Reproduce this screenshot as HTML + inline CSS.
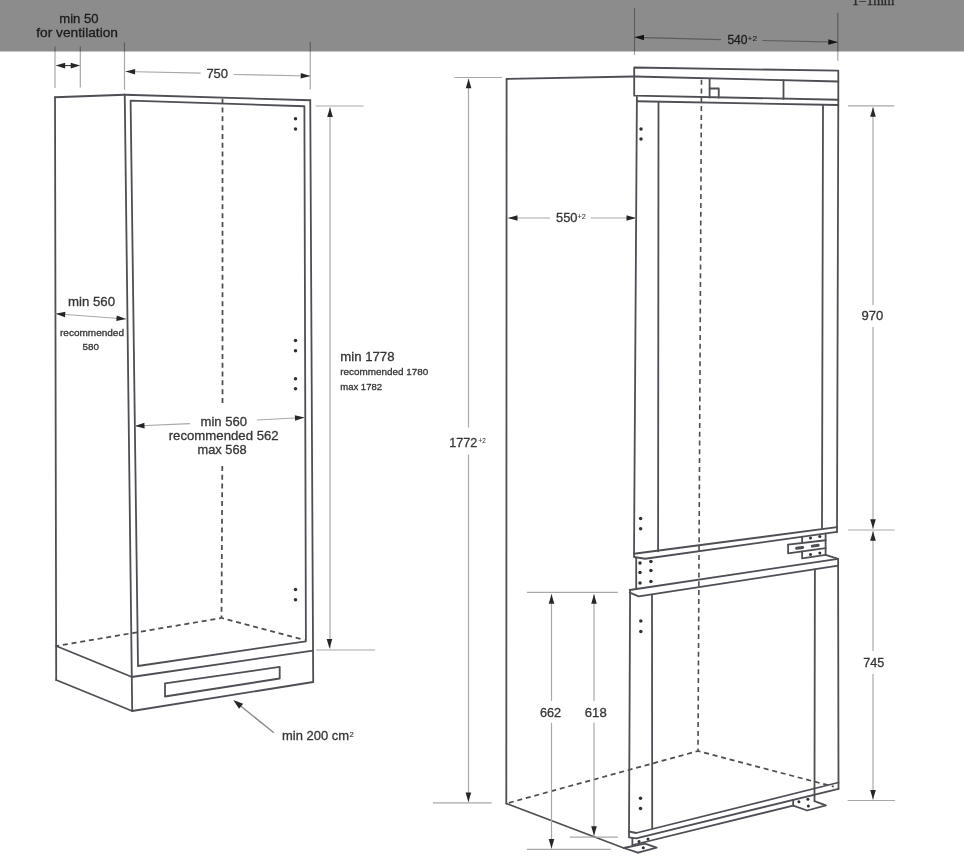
<!DOCTYPE html>
<html><head><meta charset="utf-8"><style>
html,body{margin:0;padding:0;background:#fff;width:964px;height:866px;overflow:hidden}
svg{display:block;will-change:transform}
</style></head><body>
<div id="w"><svg width="964" height="866" viewBox="0 0 964 866">
<rect width="964" height="866" fill="#fff"/>
<g>
<polyline points="55,97.25 124.75,94.75" fill="none" stroke="#4e4e54" stroke-width="1.8" stroke-linejoin="round" stroke-linecap="round"/>
<polyline points="55,97.25 56.2,680" fill="none" stroke="#4e4e54" stroke-width="1.8" stroke-linejoin="round" stroke-linecap="round"/>
<polyline points="124.75,94.75 310.25,100.25" fill="none" stroke="#4e4e54" stroke-width="1.8" stroke-linejoin="round" stroke-linecap="round"/>
<polyline points="124.75,94.75 132.2,711" fill="none" stroke="#4e4e54" stroke-width="1.8" stroke-linejoin="round" stroke-linecap="round"/>
<polyline points="310.25,100.25 313.2,682" fill="none" stroke="#4e4e54" stroke-width="1.8" stroke-linejoin="round" stroke-linecap="round"/>
<polygon points="130.6,100.6 304.4,106.25 305.9,641.3 138,666" fill="none" stroke="#4e4e54" stroke-width="1.8" stroke-linejoin="round" stroke-linecap="round"/>
<polyline points="131.6,677 313,650.6" fill="none" stroke="#4e4e54" stroke-width="1.8" stroke-linejoin="round" stroke-linecap="round"/>
<polyline points="132.2,711 313.2,682" fill="none" stroke="#4e4e54" stroke-width="1.8" stroke-linejoin="round" stroke-linecap="round"/>
<polyline points="56.2,646 132,677" fill="none" stroke="#4e4e54" stroke-width="1.8" stroke-linejoin="round" stroke-linecap="round"/>
<polyline points="56.2,680 132.2,711" fill="none" stroke="#4e4e54" stroke-width="1.8" stroke-linejoin="round" stroke-linecap="round"/>
<polygon points="165,683.4 279.7,666.9 279.7,678.5 165,696.5" fill="none" stroke="#4e4e54" stroke-width="1.8" stroke-linejoin="round" stroke-linecap="round"/>
<polyline points="222.5,98.75 222.5,406" fill="none" stroke="#4c4c52" stroke-width="1.75" stroke-dasharray="5 3.8" stroke-dashoffset="0" stroke-linejoin="round"/>
<polyline points="221.5,618 222.3,466" fill="none" stroke="#4c4c52" stroke-width="1.75" stroke-dasharray="5 3.8" stroke-dashoffset="2.5" stroke-linejoin="round"/>
<polyline points="221.5,618 56.2,646" fill="none" stroke="#4c4c52" stroke-width="1.75" stroke-dasharray="5 3.8" stroke-dashoffset="2.5" stroke-linejoin="round"/>
<polyline points="221.5,618 304.4,639.9" fill="none" stroke="#4c4c52" stroke-width="1.75" stroke-dasharray="5 3.8" stroke-dashoffset="2.5" stroke-linejoin="round"/>
<circle cx="295.5" cy="118.75" r="1.75" fill="#303034"/>
<circle cx="295.5" cy="129.1" r="1.75" fill="#303034"/>
<circle cx="295.5" cy="340.5" r="1.75" fill="#303034"/>
<circle cx="295.5" cy="350.7" r="1.75" fill="#303034"/>
<circle cx="295.5" cy="378.7" r="1.75" fill="#303034"/>
<circle cx="295.5" cy="388.7" r="1.75" fill="#303034"/>
<circle cx="295.5" cy="589.6" r="1.75" fill="#303034"/>
<circle cx="295.5" cy="599.8" r="1.75" fill="#303034"/>
<polyline points="55,46.5 55,88" fill="none" stroke="#a8a8a8" stroke-width="1.2"/>
<polyline points="80.3,46.5 80.3,87.5" fill="none" stroke="#a8a8a8" stroke-width="1.2"/>
<polyline points="124.5,42.5 124.5,89.75" fill="none" stroke="#a8a8a8" stroke-width="1.2"/>
<polyline points="310.25,42 310.25,89.4" fill="none" stroke="#a8a8a8" stroke-width="1.2"/>
<line x1="64" y1="65.6" x2="72" y2="65.6" stroke="#262626" stroke-width="1"/>
<polygon points="55.6,65.6 65.1,62.8 65.1,68.4" fill="#262626"/>
<polygon points="80.2,65.6 70.7,68.4 70.7,62.8" fill="#262626"/>
<polyline points="125.6,71.5 200.7,73.1" fill="none" stroke="#a8a8a8" stroke-width="1.2"/>
<polyline points="233.5,74.5 310.25,76" fill="none" stroke="#a8a8a8" stroke-width="1.2"/>
<polygon points="125.6,71.5 135.16,68.9 135.04,74.5" fill="#262626"/>
<polygon points="310.25,76 300.7,78.61 300.81,73.01" fill="#262626"/>
<polyline points="55.5,313.75 126,319" fill="none" stroke="#a8a8a8" stroke-width="1.2"/>
<polygon points="55.7,313.75 65.38,311.67 64.97,317.25" fill="#262626"/>
<polygon points="126,319 116.32,321.09 116.73,315.5" fill="#262626"/>
<polyline points="135,426 190,423.7" fill="none" stroke="#a8a8a8" stroke-width="1.2"/>
<polyline points="257,420 304,417.5" fill="none" stroke="#a8a8a8" stroke-width="1.2"/>
<polygon points="135,426 144.37,422.81 144.61,428.4" fill="#262626"/>
<polygon points="304.5,417.5 295.16,420.8 294.87,415.2" fill="#262626"/>
<polyline points="330,107.5 330,648.6" fill="none" stroke="#a8a8a8" stroke-width="1.2"/>
<polygon points="330,107.5 332.8,117 327.2,117" fill="#262626"/>
<polygon points="329.5,648.6 326.7,639.1 332.3,639.1" fill="#262626"/>
<polyline points="315.6,106 363.5,106" fill="none" stroke="#a8a8a8" stroke-width="1.2"/>
<polyline points="316,650 375,650" fill="none" stroke="#a8a8a8" stroke-width="1.2"/>
<line x1="273.9" y1="732.8" x2="237" y2="703" stroke="#8a8a8a" stroke-width="1.4"/>
<polygon points="233.3,700 243.12,703.76 239.04,708.81" fill="#262626"/>
<text x="59.25" y="22.8" font-family="Liberation Sans" font-size="13" fill="#353538" stroke="#353538" stroke-width="0.3" textLength="39.25" lengthAdjust="spacingAndGlyphs">min 50</text>
<text x="36.25" y="36.9" font-family="Liberation Sans" font-size="13" fill="#353538" stroke="#353538" stroke-width="0.3" textLength="81.75" lengthAdjust="spacingAndGlyphs">for ventilation</text>
<text x="206.4" y="78.2" font-family="Liberation Sans" font-size="13" fill="#353538" stroke="#353538" stroke-width="0.3" textLength="21.7" lengthAdjust="spacingAndGlyphs">750</text>
<text x="68" y="306" font-family="Liberation Sans" font-size="13" fill="#353538" stroke="#353538" stroke-width="0.3" textLength="47" lengthAdjust="spacingAndGlyphs">min 560</text>
<text x="60" y="335.5" font-family="Liberation Sans" font-size="9.5" fill="#353538" stroke="#353538" stroke-width="0.3" textLength="64" lengthAdjust="spacingAndGlyphs">recommended</text>
<text x="82.5" y="349.5" font-family="Liberation Sans" font-size="9.5" fill="#353538" stroke="#353538" stroke-width="0.3" textLength="16.5" lengthAdjust="spacingAndGlyphs">580</text>
<text x="200.5" y="425.5" font-family="Liberation Sans" font-size="13" fill="#353538" stroke="#353538" stroke-width="0.3" textLength="46.5" lengthAdjust="spacingAndGlyphs">min 560</text>
<text x="168.7" y="440" font-family="Liberation Sans" font-size="13" fill="#353538" stroke="#353538" stroke-width="0.3" textLength="110" lengthAdjust="spacingAndGlyphs">recommended 562</text>
<text x="197.5" y="454" font-family="Liberation Sans" font-size="13" fill="#353538" stroke="#353538" stroke-width="0.3" textLength="49.2" lengthAdjust="spacingAndGlyphs">max 568</text>
<text x="340.3" y="360.8" font-family="Liberation Sans" font-size="12.5" fill="#353538" stroke="#353538" stroke-width="0.3" textLength="54.2" lengthAdjust="spacingAndGlyphs">min 1778</text>
<text x="340.3" y="375.3" font-family="Liberation Sans" font-size="9.5" fill="#353538" stroke="#353538" stroke-width="0.3" textLength="88" lengthAdjust="spacingAndGlyphs">recommended 1780</text>
<text x="340.3" y="389.5" font-family="Liberation Sans" font-size="9.5" fill="#353538" stroke="#353538" stroke-width="0.3" textLength="41.7" lengthAdjust="spacingAndGlyphs">max 1782</text>
<text x="282" y="739.5" font-family="Liberation Sans" font-size="13.5" fill="#353538" stroke="#353538" stroke-width="0.3" textLength="67" lengthAdjust="spacingAndGlyphs">min 200 cm</text>
<text x="349.6" y="737.2" font-family="Liberation Sans" font-size="7" fill="#353538" stroke="#353538" stroke-width="0.15" textLength="4.2" lengthAdjust="spacingAndGlyphs">2</text>
<polyline points="506.6,79 506.3,803.5" fill="none" stroke="#4e4e54" stroke-width="1.8" stroke-linejoin="round" stroke-linecap="round"/>
<polyline points="506.6,79 634.2,76.5" fill="none" stroke="#4e4e54" stroke-width="1.8" stroke-linejoin="round" stroke-linecap="round"/>
<polyline points="506.3,803.5 623.7,848 638,852.6" fill="none" stroke="#4e4e54" stroke-width="1.8" stroke-linejoin="round" stroke-linecap="round"/>
<polyline points="698,751 506.3,803.5" fill="none" stroke="#4c4c52" stroke-width="1.75" stroke-dasharray="5 3.8" stroke-dashoffset="2.5" stroke-linejoin="round"/>
<polyline points="698,751 833.7,786.7" fill="none" stroke="#4c4c52" stroke-width="1.75" stroke-dasharray="5 3.8" stroke-dashoffset="2.5" stroke-linejoin="round"/>
<polyline points="698,751 701.5,78.75" fill="none" stroke="#4c4c52" stroke-width="1.6" stroke-dasharray="5 3.8" stroke-dashoffset="2.5" stroke-linejoin="round"/>
<polygon points="634.2,67.5 838.3,70.7 838.3,99.75 634.2,95.6" fill="none" stroke="#4e4e54" stroke-width="1.8" stroke-linejoin="round" stroke-linecap="round"/>
<polyline points="634.2,76.5 838.3,81.5" fill="none" stroke="#4e4e54" stroke-width="1.8" stroke-linejoin="round" stroke-linecap="round"/>
<polyline points="709.6,78.75 709.6,97.5" fill="none" stroke="#4e4e54" stroke-width="1.8" stroke-linejoin="round" stroke-linecap="round"/>
<polyline points="783.5,80.3 783.5,98.9" fill="none" stroke="#4e4e54" stroke-width="1.8" stroke-linejoin="round" stroke-linecap="round"/>
<polyline points="709.6,88.5 718.75,88.5 718.75,97.5" fill="none" stroke="#4e4e54" stroke-width="1.8" stroke-linejoin="round" stroke-linecap="round"/>
<polyline points="636.9,101.25 838.3,105" fill="none" stroke="#4e4e54" stroke-width="1.8" stroke-linejoin="round" stroke-linecap="round"/>
<polyline points="636.9,96.9 634,557 645,558.75 837,531.9" fill="none" stroke="#4e4e54" stroke-width="1.8" stroke-linejoin="round" stroke-linecap="round"/>
<polyline points="838.3,99.75 837,532" fill="none" stroke="#4e4e54" stroke-width="1.8" stroke-linejoin="round" stroke-linecap="round"/>
<polyline points="658.5,101.9 658.1,551.25" fill="none" stroke="#4e4e54" stroke-width="1.8" stroke-linejoin="round" stroke-linecap="round"/>
<polyline points="823,105.6 822,528.3" fill="none" stroke="#4e4e54" stroke-width="1.8" stroke-linejoin="round" stroke-linecap="round"/>
<polyline points="634,553.75 837,527.2" fill="none" stroke="#4e4e54" stroke-width="1.8" stroke-linejoin="round" stroke-linecap="round"/>
<polyline points="636.2,558.5 636.2,589" fill="none" stroke="#4e4e54" stroke-width="1.8" stroke-linejoin="round" stroke-linecap="round"/>
<circle cx="640" cy="563.1" r="1.75" fill="#303034"/>
<circle cx="650.9" cy="561.6" r="1.75" fill="#303034"/>
<circle cx="640" cy="572.5" r="1.75" fill="#303034"/>
<circle cx="650.9" cy="570.6" r="1.75" fill="#303034"/>
<circle cx="640" cy="582.9" r="1.75" fill="#303034"/>
<circle cx="650.9" cy="581.6" r="1.75" fill="#303034"/>
<polyline points="802.1,536.6 802.1,542.4" fill="none" stroke="#4e4e54" stroke-width="1.8" stroke-linejoin="round" stroke-linecap="round"/>
<polyline points="825.6,533.7 825.6,554.8" fill="none" stroke="#4e4e54" stroke-width="1.8" stroke-linejoin="round" stroke-linecap="round"/>
<polyline points="788.1,544.6 825.6,540.25" fill="none" stroke="#4e4e54" stroke-width="1.8" stroke-linejoin="round" stroke-linecap="round"/>
<polyline points="788.1,544.6 788.1,553.3 825.6,548.2" fill="none" stroke="#4e4e54" stroke-width="1.8" stroke-linejoin="round" stroke-linecap="round"/>
<polyline points="802.1,551.4 802.1,558.4 825.6,554.8" fill="none" stroke="#4e4e54" stroke-width="1.8" stroke-linejoin="round" stroke-linecap="round"/>
<rect x="795.1" y="546.4" width="9" height="3" rx="1.5" fill="#4e4e54" transform="rotate(-8 799.6 547.9)"/>
<rect x="810.7" y="544.2" width="9" height="3" rx="1.5" fill="#4e4e54" transform="rotate(-8 815.2 545.7)"/>
<circle cx="810.5" cy="538.1" r="1.5" fill="#303034"/>
<circle cx="819.8" cy="536.6" r="1.5" fill="#303034"/>
<circle cx="810.5" cy="554.4" r="1.5" fill="#303034"/>
<circle cx="819.8" cy="553" r="1.5" fill="#303034"/>
<polyline points="629.75,590 838.1,558.8" fill="none" stroke="#4e4e54" stroke-width="1.8" stroke-linejoin="round" stroke-linecap="round"/>
<polyline points="825.6,554.8 838.1,558.8" fill="none" stroke="#4e4e54" stroke-width="1.8" stroke-linejoin="round" stroke-linecap="round"/>
<polyline points="838.1,558.8 838.5,788.8" fill="none" stroke="#4e4e54" stroke-width="1.8" stroke-linejoin="round" stroke-linecap="round"/>
<polyline points="629.75,592.6 638.7,596.4 838.1,565.7" fill="none" stroke="#4e4e54" stroke-width="1.8" stroke-linejoin="round" stroke-linecap="round"/>
<polyline points="630.1,590 629,837.4 636.2,838.3 838.5,788.8" fill="none" stroke="#4e4e54" stroke-width="1.8" stroke-linejoin="round" stroke-linecap="round"/>
<polyline points="652,594.7 652.2,828.4" fill="none" stroke="#4e4e54" stroke-width="1.8" stroke-linejoin="round" stroke-linecap="round"/>
<polyline points="814.9,569.3 814.5,787.7" fill="none" stroke="#4e4e54" stroke-width="1.8" stroke-linejoin="round" stroke-linecap="round"/>
<polyline points="629,831.5 636.2,833 838.5,782.5" fill="none" stroke="#4e4e54" stroke-width="1.8" stroke-linejoin="round" stroke-linecap="round"/>
<polyline points="632.7,845 793.2,805.6" fill="none" stroke="#4e4e54" stroke-width="1.8" stroke-linejoin="round" stroke-linecap="round"/>
<polyline points="632.4,838.3 632.4,845.5" fill="none" stroke="#4e4e54" stroke-width="1.8" stroke-linejoin="round" stroke-linecap="round"/>
<polyline points="623.7,848 644.9,843.6 656.7,847.7 638,852.6" fill="none" stroke="#4e4e54" stroke-width="1.8" stroke-linejoin="round" stroke-linecap="round"/>
<circle cx="639" cy="841.4" r="1.5" fill="#303034"/>
<circle cx="648" cy="839" r="1.5" fill="#303034"/>
<circle cx="643.3" cy="847.7" r="1.5" fill="#303034"/>
<polyline points="793.2,800.2 793.2,805.6" fill="none" stroke="#4e4e54" stroke-width="1.8" stroke-linejoin="round" stroke-linecap="round"/>
<polyline points="814.5,788 814.5,800.7" fill="none" stroke="#4e4e54" stroke-width="1.8" stroke-linejoin="round" stroke-linecap="round"/>
<polyline points="793.2,805.6 807.2,810.5 825.9,805.4 814.5,801.2" fill="none" stroke="#4e4e54" stroke-width="1.8" stroke-linejoin="round" stroke-linecap="round"/>
<circle cx="798.9" cy="801.7" r="1.5" fill="#303034"/>
<circle cx="807.9" cy="799.3" r="1.5" fill="#303034"/>
<circle cx="808.4" cy="805.9" r="1.5" fill="#303034"/>
<circle cx="641" cy="129" r="1.75" fill="#303034"/>
<circle cx="641" cy="139" r="1.75" fill="#303034"/>
<circle cx="640.6" cy="518.4" r="1.75" fill="#303034"/>
<circle cx="640.6" cy="528.75" r="1.75" fill="#303034"/>
<circle cx="640.8" cy="621" r="1.75" fill="#303034"/>
<circle cx="640.8" cy="631.6" r="1.75" fill="#303034"/>
<circle cx="640.5" cy="798.2" r="1.75" fill="#303034"/>
<circle cx="640.5" cy="808.4" r="1.75" fill="#303034"/>
<polyline points="468.5,78.7 468.5,427.5" fill="none" stroke="#a8a8a8" stroke-width="1.2"/>
<polyline points="468.5,454.8 468.5,802" fill="none" stroke="#a8a8a8" stroke-width="1.2"/>
<polygon points="468.6,78.7 471.4,88.2 465.8,88.2" fill="#262626"/>
<polygon points="468.4,802 465.6,792.5 471.2,792.5" fill="#262626"/>
<polyline points="454.5,77.5 502,77.5" fill="none" stroke="#a8a8a8" stroke-width="1.2"/>
<polyline points="433,802.8 491.7,802.8" fill="none" stroke="#a8a8a8" stroke-width="1.2"/>
<text x="449.3" y="447.1" font-family="Liberation Sans" font-size="13" fill="#353538" stroke="#353538" stroke-width="0.3" textLength="28" lengthAdjust="spacingAndGlyphs">1772</text>
<text x="478.6" y="443.3" font-family="Liberation Sans" font-size="7.5" fill="#353538" stroke="#353538" stroke-width="0.1" textLength="7.1" lengthAdjust="spacingAndGlyphs">+2</text>
<polyline points="634.5,7.8 634.5,55" fill="none" stroke="#a8a8a8" stroke-width="1.2"/>
<polyline points="837.8,12.8 837.8,60.7" fill="none" stroke="#a8a8a8" stroke-width="1.2"/>
<polyline points="634.5,37.3 721,39.7" fill="none" stroke="#a8a8a8" stroke-width="1.2"/>
<polyline points="762.4,40.5 837.8,42.2" fill="none" stroke="#a8a8a8" stroke-width="1.2"/>
<polygon points="634.5,37.3 644.07,34.76 643.92,40.36" fill="#262626"/>
<polygon points="837.8,42.2 828.24,44.79 828.37,39.19" fill="#262626"/>
<text x="727.4" y="44" font-family="Liberation Sans" font-size="13" fill="#353538" stroke="#353538" stroke-width="0.3" textLength="20.2" lengthAdjust="spacingAndGlyphs">540</text>
<text x="747.6" y="41.2" font-family="Liberation Sans" font-size="8" fill="#353538" stroke="#353538" stroke-width="0.1" textLength="9.4" lengthAdjust="spacingAndGlyphs">+2</text>
<polyline points="508,218 550,218" fill="none" stroke="#a8a8a8" stroke-width="1.2"/>
<polyline points="591,218 636,218" fill="none" stroke="#a8a8a8" stroke-width="1.2"/>
<polygon points="508,218 517.5,215.2 517.5,220.8" fill="#262626"/>
<polygon points="636,218 626.5,220.8 626.5,215.2" fill="#262626"/>
<text x="556" y="221.8" font-family="Liberation Sans" font-size="13" fill="#353538" stroke="#353538" stroke-width="0.3" textLength="21.5" lengthAdjust="spacingAndGlyphs">550</text>
<text x="577.5" y="218.8" font-family="Liberation Sans" font-size="7.5" fill="#353538" stroke="#353538" stroke-width="0.1" textLength="8.2" lengthAdjust="spacingAndGlyphs">+2</text>
<polyline points="873,107.2 873,305" fill="none" stroke="#a8a8a8" stroke-width="1.2"/>
<polyline points="873,327 873,528.75" fill="none" stroke="#a8a8a8" stroke-width="1.2"/>
<polygon points="873,107.2 875.8,116.7 870.2,116.7" fill="#262626"/>
<polygon points="873,528.75 870.2,519.25 875.8,519.25" fill="#262626"/>
<polyline points="848,105.9 894.4,105.9" fill="none" stroke="#a8a8a8" stroke-width="1.2"/>
<polyline points="848,530 894.6,530" fill="none" stroke="#a8a8a8" stroke-width="1.2"/>
<text x="861.6" y="320.3" font-family="Liberation Sans" font-size="13" fill="#353538" stroke="#353538" stroke-width="0.3" textLength="21.8" lengthAdjust="spacingAndGlyphs">970</text>
<polyline points="873,531.25 873,651" fill="none" stroke="#a8a8a8" stroke-width="1.2"/>
<polyline points="873,674 873,799.4" fill="none" stroke="#a8a8a8" stroke-width="1.2"/>
<polygon points="873,531.25 875.8,540.75 870.2,540.75" fill="#262626"/>
<polygon points="873,799.4 870.2,789.9 875.8,789.9" fill="#262626"/>
<polyline points="847.6,800.5 895,800.5" fill="none" stroke="#a8a8a8" stroke-width="1.2"/>
<text x="863.2" y="666.8" font-family="Liberation Sans" font-size="13" fill="#353538" stroke="#353538" stroke-width="0.3" textLength="21" lengthAdjust="spacingAndGlyphs">745</text>
<polyline points="551.5,594.2 551.5,700.9" fill="none" stroke="#a8a8a8" stroke-width="1.2"/>
<polyline points="551.5,722.8 551.5,848.6" fill="none" stroke="#a8a8a8" stroke-width="1.2"/>
<polygon points="551.5,594.2 554.3,603.7 548.7,603.7" fill="#262626"/>
<polygon points="551.5,848.6 548.7,839.1 554.3,839.1" fill="#262626"/>
<polyline points="527,592.3 617.8,592.3" fill="none" stroke="#a8a8a8" stroke-width="1.2"/>
<polyline points="527,849.4 611,849.4" fill="none" stroke="#a8a8a8" stroke-width="1.2"/>
<text x="540" y="717" font-family="Liberation Sans" font-size="13" fill="#353538" stroke="#353538" stroke-width="0.3" textLength="21.2" lengthAdjust="spacingAndGlyphs">662</text>
<polyline points="594,594.2 594,700.9" fill="none" stroke="#a8a8a8" stroke-width="1.2"/>
<polyline points="594,722.8 594,835.7" fill="none" stroke="#a8a8a8" stroke-width="1.2"/>
<polygon points="594,594.2 596.8,603.7 591.2,603.7" fill="#262626"/>
<polygon points="594,835.7 591.2,826.2 596.8,826.2" fill="#262626"/>
<polyline points="570,837.2 617.9,837.2" fill="none" stroke="#a8a8a8" stroke-width="1.2"/>
<text x="584.8" y="717" font-family="Liberation Sans" font-size="13" fill="#353538" stroke="#353538" stroke-width="0.3" textLength="21.9" lengthAdjust="spacingAndGlyphs">618</text>
<rect x="0" y="0" width="964" height="51.5" fill="#000" fill-opacity="0.45"/>
<text x="851.9" y="5" font-family="Liberation Serif" font-size="13.5" fill="#2a2a2a" stroke="#2a2a2a" stroke-width="0.3" textLength="42.5" lengthAdjust="spacingAndGlyphs">1=1mm</text>
</g>
</svg></div>
</body></html>
